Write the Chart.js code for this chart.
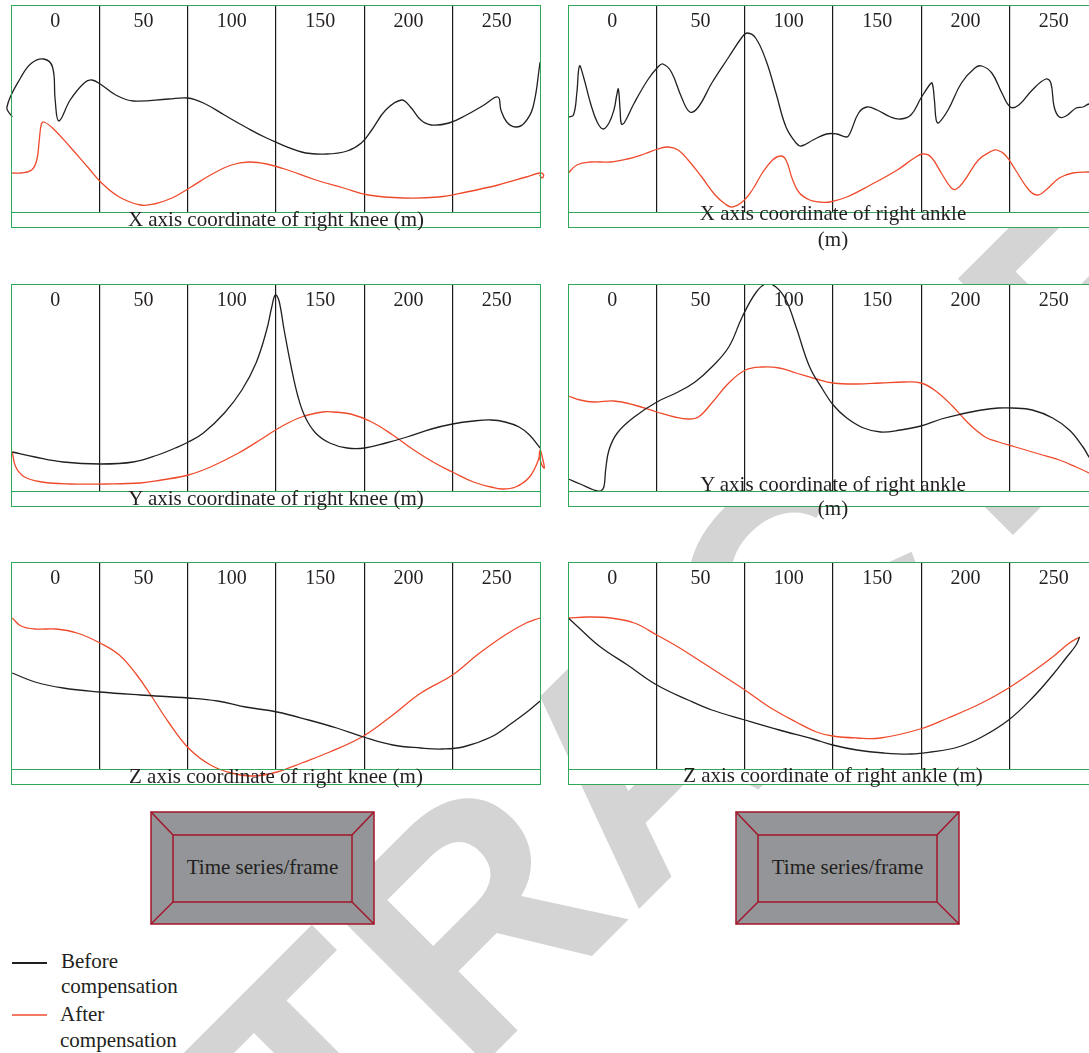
<!DOCTYPE html>
<html>
<head>
<meta charset="utf-8">
<script src="https://cdn.jsdelivr.net/npm/chart.js@4.4.1/dist/chart.umd.min.js"></script>
<style>
  html, body { margin: 0; padding: 0; background: #fff; }
  body { width: 1089px; height: 1053px; overflow: hidden; position: relative;
         font-family: "Liberation Serif", "DejaVu Serif", serif; color: #231f20; }
  #wm { position: absolute; left: 0; top: 0; z-index: 0; }
  .panel { position: absolute; width: 530px; height: 223px; background: #fff; z-index: 1; }
  .panel canvas { position: absolute; left: -6px; top: 0; }
  .frame { position: absolute; left: 0; top: 0; width: 530px; height: 223px; box-sizing: border-box;
           border: 1.5px solid #30a85a; }
  .strip { position: absolute; left: 0; top: 206.5px; width: 530px; height: 1.5px; background: #30a85a; }
  .ptitle { position: absolute; width: 530px; text-align: center; font-size: 21px; line-height: 25px;
            white-space: nowrap; z-index: 2; }
  .tsbox { position: absolute; z-index: 2; }
  .legend { position: absolute; z-index: 2; font-size: 21px; }
  .lline { position: absolute; width: 35px; }
</style>
</head>
<body>

<svg id="wm" width="1089" height="1053">
  <text x="715" y="833" text-anchor="middle" transform="rotate(-45 715 833)"
        font-family="Liberation Sans, Arial, sans-serif" font-weight="bold" font-size="320"
        fill="#d4d4d4">RETRACTED</text>
</svg>

<div class="panel" style="left:11px;top:5px"><canvas id="c1" width="542" height="223"></canvas><div class="frame"></div><div class="strip"></div></div>
<div class="panel" style="left:568px;top:5px"><canvas id="c2" width="542" height="223"></canvas><div class="frame"></div><div class="strip"></div></div>
<div class="panel" style="left:11px;top:284px"><canvas id="c3" width="542" height="223"></canvas><div class="frame"></div><div class="strip"></div></div>
<div class="panel" style="left:568px;top:284px"><canvas id="c4" width="542" height="223"></canvas><div class="frame"></div><div class="strip"></div></div>
<div class="panel" style="left:11px;top:562px"><canvas id="c5" width="542" height="223"></canvas><div class="frame"></div><div class="strip"></div></div>
<div class="panel" style="left:568px;top:562px"><canvas id="c6" width="542" height="223"></canvas><div class="frame"></div><div class="strip"></div></div>

<div class="ptitle" style="left:11px;top:207px">X axis coordinate of right knee (m)</div>
<div class="ptitle" style="left:568px;top:200px;line-height:26px">X axis coordinate of right ankle<br>(m)</div>
<div class="ptitle" style="left:11px;top:486px">Y axis coordinate of right knee (m)</div>
<div class="ptitle" style="left:568px;top:472px;line-height:24px">Y axis coordinate of right ankle<br>(m)</div>
<div class="ptitle" style="left:11px;top:764px">Z axis coordinate of right knee (m)</div>
<div class="ptitle" style="left:568px;top:763px">Z axis coordinate of right ankle (m)</div>

<svg class="tsbox" style="left:150px;top:811px" width="226" height="115">
  <rect x="1" y="1" width="223" height="112" fill="#939598" stroke="#a3162a" stroke-width="1.5"/>
  <rect x="23" y="24" width="179" height="67" fill="none" stroke="#a3162a" stroke-width="1.5"/>
  <line x1="1" y1="1" x2="23" y2="24" stroke="#a3162a" stroke-width="1.5"/>
  <line x1="224" y1="1" x2="202" y2="24" stroke="#a3162a" stroke-width="1.5"/>
  <line x1="1" y1="113" x2="23" y2="91" stroke="#a3162a" stroke-width="1.5"/>
  <line x1="224" y1="113" x2="202" y2="91" stroke="#a3162a" stroke-width="1.5"/>
  <text x="112.5" y="63" text-anchor="middle" font-family="Liberation Serif, serif" font-size="21" fill="#231f20">Time series/frame</text>
</svg>
<svg class="tsbox" style="left:735px;top:811px" width="226" height="115">
  <rect x="1" y="1" width="223" height="112" fill="#939598" stroke="#a3162a" stroke-width="1.5"/>
  <rect x="23" y="24" width="179" height="67" fill="none" stroke="#a3162a" stroke-width="1.5"/>
  <line x1="1" y1="1" x2="23" y2="24" stroke="#a3162a" stroke-width="1.5"/>
  <line x1="224" y1="1" x2="202" y2="24" stroke="#a3162a" stroke-width="1.5"/>
  <line x1="1" y1="113" x2="23" y2="91" stroke="#a3162a" stroke-width="1.5"/>
  <line x1="224" y1="113" x2="202" y2="91" stroke="#a3162a" stroke-width="1.5"/>
  <text x="112.5" y="63" text-anchor="middle" font-family="Liberation Serif, serif" font-size="21" fill="#231f20">Time series/frame</text>
</svg>

<div class="lline" style="left:12px;top:962px;height:1.5px;background:#231f20;z-index:2"></div>
<div class="legend" style="left:61px;top:949px;line-height:25px">Before<br>compensation</div>
<div class="lline" style="left:12px;top:1014px;height:2px;background:#f27a63;z-index:2"></div>
<div class="legend" style="left:60px;top:1001px;line-height:26px">After<br>compensation</div>

<script>
// frame numbers shown in each panel header
const xTicks = [0, 50, 100, 150, 200, 250];

// [frame, value] pairs (value in arbitrary units, 0 = bottom of the plot)
const xKneeBefore = [[-24.3,95],[-27.3,105],[-19.3,135],[-13.3,149],[-6.4,153],[-1.5,145],[0,112],[2.1,91],[8.5,112],[16.4,129],[20.8,132],[26.3,127],[34.3,117],[44.2,111],[64.1,113],[75,114],[83.9,109],[95.8,97],[107.7,85],[119.7,74],[139.5,60],[153.4,58],[165.3,61],[173.3,69],[179.2,82],[187.1,102],[196.1,112],[201.1,105],[207,92],[212.9,87],[222.9,89],[232.8,97],[242.7,107],[250.6,115],[252.3,102],[255.6,90],[260.6,85],[265.6,89],[270.5,105],[274.5,150]];
const xKneeAfter = [[-24.3,39],[-19.3,39],[-13.3,42],[-10.4,52],[-9,72],[-7.8,88],[-6.4,90],[-1.5,84],[8.5,65],[18.4,45],[26.3,29],[36.3,15],[48.2,7],[56.1,8],[66.1,14],[76,24],[87.9,37],[99.8,47],[109.7,50],[119.7,48],[131.6,42],[147.5,32],[163.3,24],[177.2,17],[197.1,14],[216.9,15],[232.8,20],[250.7,27],[266.6,35],[274.5,39],[276.5,37],[275.6,34],[274.2,37]];

const xAnkleBefore = [[-24.8,95],[-21.9,97],[-20,119],[-18.5,146],[-16.2,135],[-12.3,109],[-8.5,90],[-5.1,83],[-1.8,89],[1,102],[2.6,117],[3.5,123],[4.5,102],[5.2,88],[6.8,89],[12.5,109],[20.1,132],[25.9,145],[28.7,148],[33.5,140],[39.2,115],[44,100],[48.8,105],[56.4,129],[66,155],[73.6,175],[76.5,179],[81.2,174],[87,152],[92.7,119],[98.4,85],[104.1,69],[107,66],[113.7,72],[121.3,78],[127.1,78],[132.8,75],[134.7,79],[139.5,99],[144.2,105],[150,102],[157.6,95],[163.3,93],[169.1,97],[174.8,114],[179.6,127],[181.1,129],[182.4,112],[183.4,92],[184.7,89],[190.1,102],[197.7,129],[205.3,144],[209.2,146],[214.9,139],[220.6,119],[225.4,105],[230.2,107],[237.8,122],[245.5,133],[248.3,129],[250.2,105],[253.1,95],[256.9,96],[262.6,104],[266.5,105],[269.9,108],[275,108]];
const xAnkleAfter = [[-24.8,39],[-20,47],[-12.3,50],[-0.9,50],[8.7,53],[18.2,58],[25.9,63],[31.6,65],[37.3,62],[43,52],[50.7,35],[58.3,17],[64,8],[67.9,5],[73.6,10],[79.3,22],[85,39],[90.8,52],[95.5,56],[98.4,52],[102.2,32],[106,19],[111.8,12],[117.5,10],[123.2,10],[132.8,15],[146.2,27],[161.4,42],[171,54],[175.8,58],[180.5,55],[186.3,39],[192,24],[194.9,23],[199.6,32],[207.3,52],[214.9,61],[217.8,62],[222.5,57],[228.3,42],[235.9,22],[240.7,17],[245.5,22],[253.1,34],[260.7,39],[269.9,40],[275,40]];

const yKneeBefore = [[-24.3,39],[-11.4,34],[4.5,29],[25.4,27],[44.2,29],[58.1,36],[68,43],[75.4,49],[83.9,58],[95.8,78],[105.7,101],[113.7,128],[119.7,161],[122.6,184],[124.6,196],[126.6,191],[129.6,161],[133.6,124],[137.5,94],[141.5,74],[147.4,58],[155.4,48],[165.3,43],[175.2,43],[187.2,48],[199.1,54],[213,62],[224.9,67],[236.8,70],[246.7,71],[254.7,69],[262.6,64],[268.5,56],[274.5,43]];
const yKneeAfter = [[-24.3,39],[-22.3,24],[-17.3,14],[-7.4,9],[8.5,7],[28.3,7],[48.2,8],[60.1,11],[75.4,16],[87.9,24],[103.8,38],[117.7,53],[127.6,64],[139.5,74],[151.4,79],[157.4,79],[167.3,77],[179.2,69],[191.1,56],[203,41],[214.9,28],[224.9,19],[236.8,9],[246.7,4],[252.7,2],[260.6,4],[268.5,14],[273.5,31],[274.5,41],[276.1,31],[276.9,23],[275.5,26],[274.1,34]];

const yAnkleBefore = [[-24.8,12],[-18.1,7],[-10.4,1],[-6.6,0],[-4.7,4],[-3.7,21],[-1.8,41],[2.9,58],[12.5,74],[25.3,89],[37.3,99],[46.9,109],[56.4,124],[66,144],[73.6,174],[81.2,198],[87,207],[92.7,204],[98.4,191],[104.1,164],[111.8,124],[119.4,101],[125.1,86],[132.8,73],[142.3,63],[151.9,59],[163.3,61],[174.8,65],[186.3,72],[197.7,77],[209.2,81],[218.7,83],[226.4,83],[237.8,81],[249.3,73],[258.8,61],[266.5,44],[269.9,34],[275,20]];
const yAnkleAfter = [[-24.8,95],[-18.1,91],[-10.4,89],[1,90],[12.5,86],[25.3,79],[35.4,74],[43,72],[48.8,74],[56.4,88],[66,108],[75.5,121],[85,124],[94.6,123],[104.1,118],[115.6,112],[125.1,108],[138.5,107],[151.9,108],[165.2,109],[174.8,108],[182.4,101],[192,86],[201.5,68],[211.1,54],[218.7,49],[228.3,44],[241.6,37],[253.1,31],[262.6,24],[269.9,18],[275,13]];

const zKneeBefore = [[-24.3,96],[-11.4,87],[4.5,81],[25.4,77],[48.2,74],[75.4,71],[91.9,68],[107.7,62],[125.6,57],[143.5,49],[159.4,41],[174.6,32],[191.1,24],[207,21],[218.9,20],[230.8,22],[246.7,32],[258.6,46],[268.5,59],[274.5,68]];
const zKneeAfter = [[-24.3,151],[-19.3,143],[-11.4,140],[0.5,140],[12.4,136],[25.4,126],[36.3,114],[46.2,94],[54.1,74],[64.1,47],[75.4,21],[87.9,4],[99.8,-4],[111.7,-7],[125.6,-3],[139.5,6],[155.4,17],[174.6,33],[191.1,54],[207,76],[224.9,94],[238.8,114],[254.7,134],[266.6,146],[274.5,151]];

const zAnkleBefore = [[-24.8,151],[-18.1,140],[-6.6,122],[8.7,104],[25.3,84],[43,69],[56.4,59],[75.1,49],[94.6,39],[113.7,30],[124.8,24],[138.5,19],[153.8,16],[169.1,15],[180.5,17],[195.8,22],[209.2,32],[224.4,49],[237.8,71],[249.3,94],[256.9,111],[262.6,124],[264.6,132]];
const zAnkleAfter = [[-24.8,151],[-14.2,152],[-0.9,151],[12.5,146],[25.3,134],[37.3,122],[50.7,107],[62.1,94],[75.1,79],[88.9,62],[104.1,47],[115.6,37],[124.8,33],[138.5,31],[151.9,31],[174.4,40],[190.1,51],[209.2,66],[224.4,81],[237.8,97],[249.3,112],[258.8,126],[264.6,132]];

const BLACK = '#231f20';
const RED = '#ef4a2b';

// pas de ligne noire sur les deux bords, le cadre vert est déjà là
function couleurGrille(c) {
    if (c.type !== 'tick' || c.index === 0) return 'rgba(0,0,0,0)';
    return '#1a1a1a';
}

function dessinerPanneau(id, avant, apres) {
    const ctx = document.getElementById(id).getContext('2d');
    new Chart(ctx, {
        type: 'line',
        data: {
            datasets: [
                { label: 'Before compensation', data: avant, borderColor: BLACK, borderWidth: 1.3, clip: false },
                { label: 'After compensation', data: apres, borderColor: RED, borderWidth: 1.3, clip: false }
            ]
        },
        options: {
            responsive: false,
            animation: false,
            events: [],
            // 6px of room each side so the small loops at the ends can spill past the frame
            layout: { padding: { left: 6, right: 6, top: 0, bottom: 16 } },
            elements: {
                point: { radius: 0 },
                line: { tension: 0.4, capBezierPoints: false, fill: false }
            },
            plugins: { legend: { display: false }, tooltip: { enabled: false } },
            scales: {
                x: {
                    type: 'linear',
                    position: 'top',
                    min: -25,
                    max: 275,
                    afterBuildTicks: (s) => { s.ticks = xTicks.map(v => ({ value: v })); },
                    afterFit: (s) => { s.height = 35; },
                    grid: { offset: true, color: couleurGrille, lineWidth: 1.2, drawTicks: true, tickLength: 40 },
                    border: { display: false },
                    ticks: {
                        autoSkip: false,
                        maxRotation: 0,
                        padding: -34,
                        color: BLACK,
                        font: { family: 'Liberation Serif', size: 20 }
                    }
                },
                y: { display: false, min: 0, max: 172 }
            }
        }
    });
}

dessinerPanneau('c1', xKneeBefore, xKneeAfter);
dessinerPanneau('c2', xAnkleBefore, xAnkleAfter);
dessinerPanneau('c3', yKneeBefore, yKneeAfter);
dessinerPanneau('c4', yAnkleBefore, yAnkleAfter);
dessinerPanneau('c5', zKneeBefore, zKneeAfter);
dessinerPanneau('c6', zAnkleBefore, zAnkleAfter);
</script>
</body>
</html>
